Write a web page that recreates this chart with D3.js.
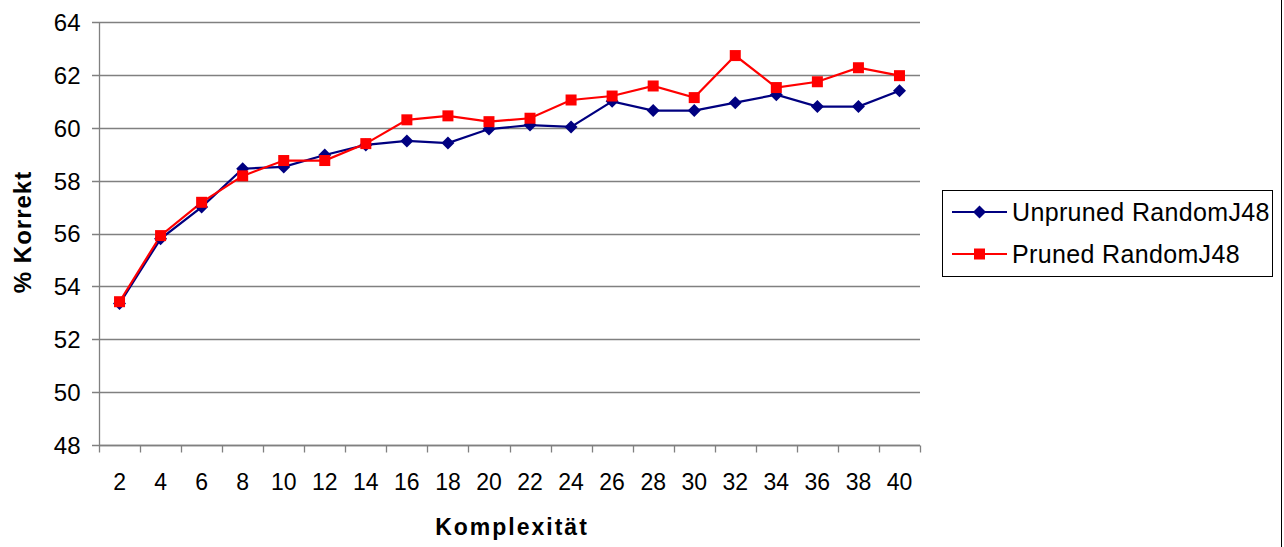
<!DOCTYPE html>
<html><head><meta charset="utf-8">
<script src="https://cdn.jsdelivr.net/npm/d3@7"></script>
<style>body{margin:0;background:#fff}svg{display:block}</style>
</head><body><svg id="c" width="1284" height="547"></svg>
<script>
const categories = ["2","4","6","8","10","12","14","16","18","20","22","24","26","28","30","32","34","36","38","40"];
const unpruned = [53.35,55.8,57.0,58.45,58.52,58.97,59.35,59.5,59.42,59.95,60.1,60.03,61.0,60.65,60.65,60.95,61.25,60.8,60.8,61.4];
const pruned   = [53.42,55.92,57.18,58.18,58.76,58.76,59.4,60.3,60.45,60.23,60.36,61.05,61.2,61.58,61.14,62.73,61.52,61.74,62.27,61.97];
const yTicks = [48,50,52,54,56,58,60,62,64];
const seriesNames = ["Unpruned RandomJ48","Pruned RandomJ48"];
const seriesColors = ["#000080","#FF0000"];

const svg = d3.select("#c");
const font = "'Liberation Sans', Arial, sans-serif";
const L = 99, R = 920, T = 22, B = 445;
const x = d3.scaleBand().domain(categories).range([L, R]).padding(0);
const y = d3.scaleLinear().domain([48, 64]).range([B, T]);

// outer frame line on right
svg.append("line").attr("x1",1281.5).attr("x2",1281.5).attr("y1",0).attr("y2",547).attr("stroke","#000").attr("stroke-width",1);

// gridlines
svg.append("g").selectAll("line").data(yTicks).join("line")
  .attr("x1", L - 7).attr("x2", R).attr("y1", d => Math.round(y(d)) + 0.5).attr("y2", d => Math.round(y(d)) + 0.5)
  .attr("stroke", "#808080").attr("stroke-width", 1.3);

// y axis
const yAxis = svg.append("g").attr("transform", `translate(${L + 0.5},0)`)
  .call(d3.axisLeft(y).tickValues(yTicks).tickSize(7).tickPadding(12));
yAxis.select(".domain").attr("stroke", "#808080").attr("stroke-width", 1.3).attr("d", `M0,${T}V${B}`);
yAxis.selectAll(".tick line").remove();
yAxis.selectAll("text").attr("font-family", font).attr("font-size", 24).attr("fill", "#000").attr("x", -19).attr("dy", "0.35em");

// x axis
const xAxis = svg.append("g").attr("transform", `translate(0,${Math.round(B) + 0.5})`)
  .call(d3.axisBottom(x).tickSize(0).tickPadding(28));
xAxis.select(".domain").attr("stroke", "#808080").attr("stroke-width", 1.3).attr("d", `M${L},0H${R}`);
xAxis.selectAll("text").attr("font-family", font).attr("font-size", 23).attr("fill", "#000");
const bounds = categories.map(c => x(c)).concat([R]);
xAxis.append("g").selectAll("line").data(bounds).join("line")
  .attr("x1", d => Math.round(d) + 0.5).attr("x2", d => Math.round(d) + 0.5).attr("y1", 0).attr("y2", 7)
  .attr("stroke", "#808080").attr("stroke-width", 1.3);

// axis titles
svg.append("text").attr("x", 512).attr("y", 535).attr("text-anchor", "middle")
  .attr("font-family", font).attr("font-weight", "bold").attr("font-size", 23).attr("letter-spacing", 2).text("Komplexität");
svg.append("text").attr("transform", `translate(31,232) rotate(-90)`).attr("text-anchor", "middle")
  .attr("font-family", font).attr("font-weight", "bold").attr("font-size", 24).attr("letter-spacing", 1).text("% Korrekt");

const cx = d => x(d) + x.bandwidth() / 2;
const line = d3.line().x((d, i) => cx(categories[i])).y(d => y(d));

const data = [unpruned, pruned];
data.forEach((s, k) => {
  svg.append("path").datum(s).attr("d", line).attr("fill", "none")
    .attr("stroke", seriesColors[k]).attr("stroke-width", 2.2);
});
const diamond = s => `M0,${-s}L${s},0L0,${s}L${-s},0Z`;
svg.append("g").selectAll("path").data(unpruned).join("path")
  .attr("transform", (d, i) => `translate(${cx(categories[i])},${y(d)})`)
  .attr("d", diamond(6.5)).attr("fill", seriesColors[0]);
svg.append("g").selectAll("rect").data(pruned).join("rect")
  .attr("x", (d, i) => cx(categories[i]) - 5.5).attr("y", d => y(d) - 5.5)
  .attr("width", 11).attr("height", 11).attr("fill", seriesColors[1]);

// legend
const lg = svg.append("g");
lg.append("rect").attr("x", 942.5).attr("y", 190.5).attr("width", 330).attr("height", 86)
  .attr("fill", "#fff").attr("stroke", "#000").attr("stroke-width", 1);
seriesNames.forEach((n, k) => {
  const yy = 212 + k * 42;
  lg.append("line").attr("x1", 952).attr("x2", 1007).attr("y1", yy).attr("y2", yy)
    .attr("stroke", seriesColors[k]).attr("stroke-width", 2);
  if (k === 0) lg.append("path").attr("transform", `translate(979.5,${yy})`).attr("d", diamond(6.5)).attr("fill", seriesColors[0]);
  else lg.append("rect").attr("x", 974).attr("y", yy - 5.5).attr("width", 11).attr("height", 11).attr("fill", seriesColors[1]);
  lg.append("text").attr("x", 1012).attr("y", yy + 9).attr("font-family", font).attr("font-size", 25).attr("letter-spacing", 0.35).text(n);
});
</script></body></html>
